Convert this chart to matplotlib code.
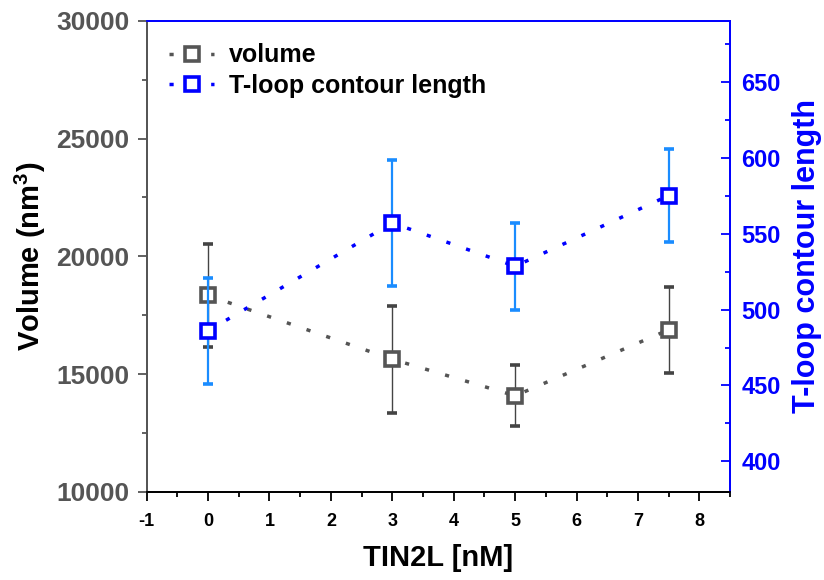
import numpy as np
import matplotlib
matplotlib.use("Agg")
import matplotlib.pyplot as plt
from matplotlib.ticker import MultipleLocator

plt.rcParams["font.family"] = ["Liberation Sans", "DejaVu Sans"]
plt.rcParams["font.weight"] = "bold"
plt.rcParams["axes.unicode_minus"] = False
plt.rcParams["mathtext.fontset"] = "custom"
plt.rcParams["mathtext.bf"] = "Liberation Sans:bold"
plt.rcParams["mathtext.rm"] = "Liberation Sans:bold"

# Дані з графіка
tin2l = np.array([0, 3, 5, 7.5])
volume = np.array([18340, 15630, 14080, 16880])
volume_err = np.array([2200, 2280, 1300, 1830])
tloop = np.array([486, 557, 528.5, 575])
tloop_err = np.array([35, 41.5, 28.5, 30.5])

gray = "#555555"
blue = "#0000ff"
light_blue = "#1a8cff"

fig = plt.figure(figsize=(8.24, 5.8), dpi=100)
ax = fig.add_axes([0.178, 0.152, 0.708, 0.812])
ax2 = ax.twinx()

# Об'єм (ліва вісь)
eb1 = ax.errorbar(tin2l, volume, yerr=volume_err, fmt="s", ls=(0, (1.2, 4.8)), lw=2.5,
                  color=gray, mfc="white", mec=gray, mew=2.6, ms=10.5,
                  ecolor="#444444", elinewidth=1, capsize=3.8, capthick=1, label="volume")

# Довжина T-петлі (права вісь)
eb2 = ax2.errorbar(tin2l, tloop, yerr=tloop_err, fmt="s", ls=(0, (1.2, 4.8)), lw=2.5,
                   color=blue, mfc="white", mec=blue, mew=2.6, ms=10.5,
                   ecolor=light_blue, elinewidth=1.6, capsize=3.8, capthick=1.6,
                   label="T-loop contour length")

ax.set_xlim(-1, 8.5)
ax.set_ylim(10000, 30000)
ax2.set_ylim(380, 690)

ax.xaxis.set_major_locator(MultipleLocator(1))
ax.xaxis.set_minor_locator(MultipleLocator(0.5))
ax.yaxis.set_major_locator(MultipleLocator(5000))
ax.yaxis.set_minor_locator(MultipleLocator(2500))
ax2.yaxis.set_major_locator(MultipleLocator(50))
ax2.yaxis.set_minor_locator(MultipleLocator(25))

ax.tick_params(axis="x", which="major", direction="out", length=6.5, width=1.3,
               labelsize=13, colors="black", pad=9)
ax.tick_params(axis="x", which="minor", direction="out", length=3.5, width=1.3)
ax.tick_params(axis="y", which="major", direction="out", length=6.5, width=1.3,
               labelsize=19, colors=gray, pad=6)
ax.tick_params(axis="y", which="minor", direction="out", length=3.5, width=1.3, colors=gray)
ax2.tick_params(axis="y", which="major", direction="in", length=6.5, width=1.3,
                labelsize=17, colors=blue, pad=8)
ax2.tick_params(axis="y", which="minor", direction="in", length=3.5, width=1.3, colors=blue)

for a in (ax, ax2):
    a.spines["left"].set_color(gray)
    a.spines["bottom"].set_color("black")
    a.spines["top"].set_color(blue)
    a.spines["right"].set_color(blue)
    for s in a.spines.values():
        s.set_linewidth(1.3)

ax.set_xlabel("TIN2L [nM]", fontsize=21, fontweight="bold", labelpad=10)
ax.set_ylabel("Volume (nm$^\\mathbf{3}$)", fontsize=21, fontweight="bold", labelpad=6)
ax2.set_ylabel("T-loop contour length", fontsize=22, fontweight="bold", color=blue, labelpad=8)

ax2.legend([eb1[0], eb2[0]], ["volume", "T-loop contour length"], loc="upper left",
           frameon=False, fontsize=18, handlelength=1.8, handletextpad=0.6,
           borderaxespad=0.5, labelspacing=0.25)

fig.savefig("out.png", dpi=100)
